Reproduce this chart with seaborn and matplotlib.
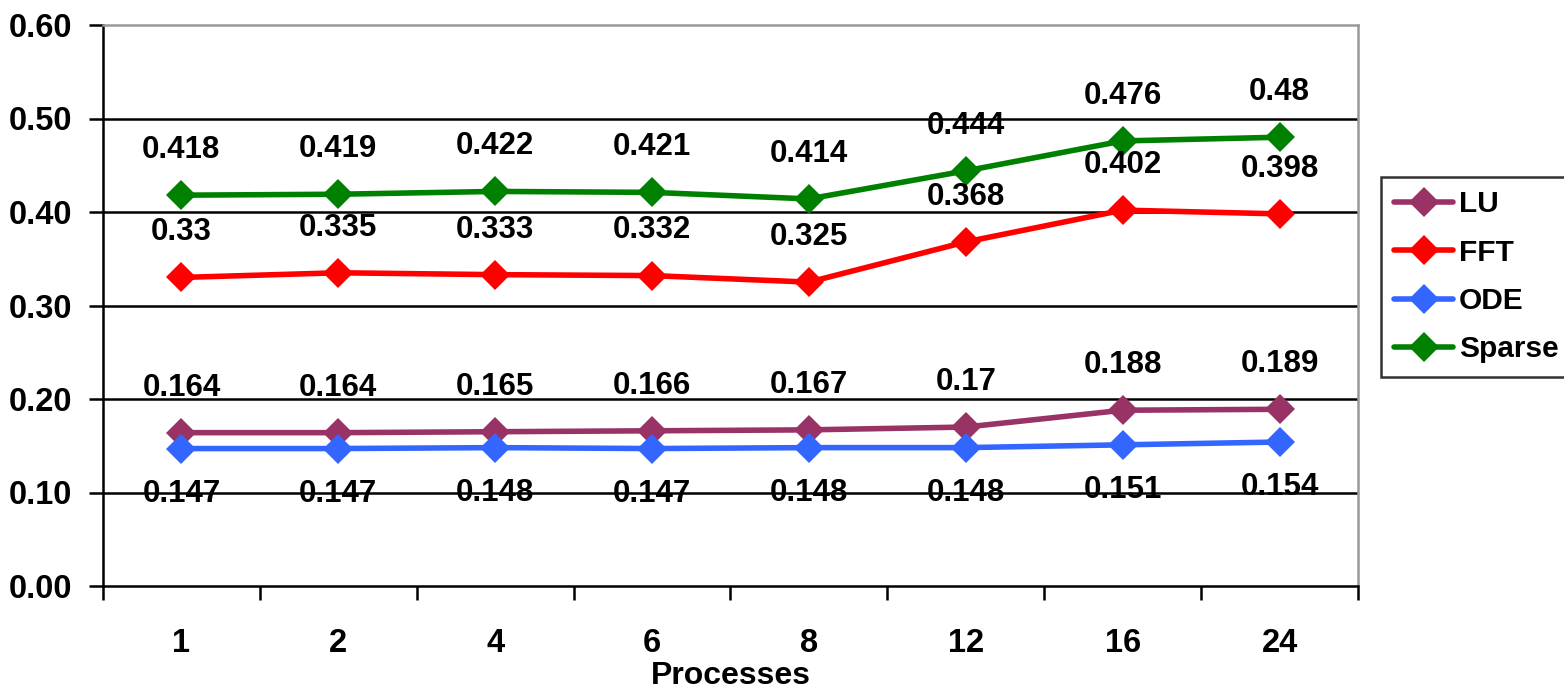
import matplotlib
matplotlib.use("Agg")
import matplotlib.pyplot as plt
from matplotlib import font_manager
from matplotlib.ticker import FixedLocator, NullFormatter, FixedFormatter
import numpy as np
import pandas as pd
import seaborn as sns

# Run time per process count for each benchmark
processes = ["1", "2", "4", "6", "8", "12", "16", "24"]
lu = [0.164, 0.164, 0.165, 0.166, 0.167, 0.17, 0.188, 0.189]
fft = [0.33, 0.335, 0.333, 0.332, 0.325, 0.368, 0.402, 0.398]
ode = [0.147, 0.147, 0.148, 0.147, 0.148, 0.148, 0.151, 0.154]
sparse = [0.418, 0.419, 0.422, 0.421, 0.414, 0.444, 0.476, 0.48]
series_names = ["LU", "FFT", "ODE", "Sparse"]
y_ticks = [0.0, 0.1, 0.2, 0.3, 0.4, 0.5, 0.6]

colors = {"LU": "#993366", "FFT": "#FF0000", "ODE": "#3366FF", "Sparse": "#008000"}
label_side = {"LU": 1, "FFT": 1, "ODE": -1, "Sparse": 1}

sns.set_theme(style="white")

# prefer a narrow bold face when one is installed
narrow_path = None
for f in font_manager.fontManager.ttflist:
    fn = f.fname.replace(" ", "").lower()
    if ("narrow" in fn or "condensed" in fn) and "bold" in fn and "italic" not in fn \
            and ("liberation" in fn or "arial" in fn):
        narrow_path = f.fname
        break

if narrow_path:
    font_manager.fontManager.addfont(narrow_path)
    fam = font_manager.FontProperties(fname=narrow_path).get_name()
    tick_size, label_size, value_size, legend_size = 24, 25, 24, 24
else:
    fam = "Liberation Sans"
    tick_size, label_size, value_size, legend_size = 23.5, 23, 22.5, 21.5

plt.rcParams["font.family"] = [fam, "DejaVu Sans"]
plt.rcParams["font.weight"] = "bold"
for key in ("text.color", "axes.labelcolor", "xtick.color", "ytick.color"):
    plt.rcParams[key] = "black"

values = {"LU": lu, "FFT": fft, "ODE": ode, "Sparse": sparse}
rows = []
for name in series_names:
    for i, v in enumerate(values[name]):
        rows.append({"pos": i, "Processes": processes[i], "value": v, "series": name})
df = pd.DataFrame(rows)

fig = plt.figure(figsize=(15.64, 6.89), dpi=100)
ax = fig.add_axes([103 / 1564, 1 - 586 / 689, (1358 - 103) / 1564, (586 - 25) / 689])

sns.lineplot(data=df, x="pos", y="value", hue="series", style="series",
             hue_order=series_names, style_order=series_names,
             palette=colors, markers={n: "D" for n in series_names},
             dashes=False, linewidth=4.0, markersize=15, markeredgewidth=0,
             ax=ax, legend=True, zorder=3)

# value labels
for name in series_names:
    for i, v in enumerate(values[name]):
        ax.annotate(f"{v:g}", (i, v), xytext=(0, 32.5 * label_side[name]),
                    textcoords="offset points", ha="center", va="center",
                    fontsize=value_size, fontweight="bold", color="black", zorder=5)

ax.set_xlim(-0.5, len(processes) - 0.5)
ax.set_ylim(0, 0.6)
ax.yaxis.set_major_locator(FixedLocator(y_ticks))
ax.set_yticklabels([f"{t:.2f}" for t in y_ticks])
for t in y_ticks[1:-1]:
    ax.axhline(t, color="black", linewidth=1.8, zorder=1)

ax.xaxis.set_major_locator(FixedLocator(np.arange(-0.5, len(processes), 1.0)))
ax.xaxis.set_major_formatter(NullFormatter())
ax.xaxis.set_minor_locator(FixedLocator(np.arange(len(processes))))
ax.xaxis.set_minor_formatter(FixedFormatter(processes))
ax.tick_params(axis="x", which="major", direction="out", length=10, width=1.8,
               color="black", bottom=True)
ax.tick_params(axis="x", which="minor", length=0, pad=30, labelsize=tick_size)
ax.tick_params(axis="y", direction="out", length=10, width=1.8, color="black",
               left=True, pad=12, labelsize=tick_size)
for lab in ax.get_xticklabels(minor=True) + ax.get_yticklabels():
    lab.set_fontweight("bold")

ax.set_xlabel("Processes", fontsize=label_size, fontweight="bold", labelpad=2)
ax.set_ylabel("")

ax.spines["left"].set_color("black")
ax.spines["bottom"].set_color("black")
ax.spines["left"].set_linewidth(1.8)
ax.spines["bottom"].set_linewidth(1.8)
ax.spines["top"].set_color("#999999")
ax.spines["right"].set_color("#999999")
ax.spines["top"].set_linewidth(1.8)
ax.spines["right"].set_linewidth(1.8)

handles, labels = ax.get_legend_handles_labels()
ax.get_legend().remove()
leg = fig.legend(handles, labels, loc="upper left",
                 bbox_to_anchor=(1381 / 1564, 1 - 177 / 689),
                 frameon=True, fancybox=False, borderaxespad=0,
                 handlelength=1.95, handletextpad=0.2, labelspacing=0.68,
                 borderpad=0.45, prop={"size": legend_size, "weight": "bold"})
leg.get_frame().set_edgecolor("black")
leg.get_frame().set_linewidth(1.8)
for h in leg.legend_handles:
    h.set_markersize(15)
    h.set_linewidth(4.0)

fig.savefig("out.png", dpi=100, facecolor="white")
